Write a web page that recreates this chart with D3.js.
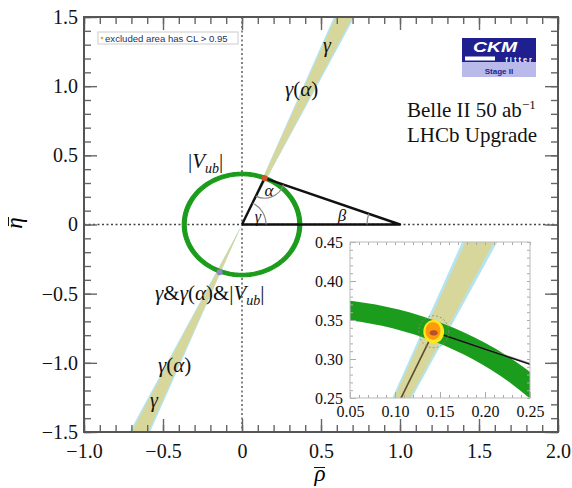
<!DOCTYPE html>
<html><head><meta charset="utf-8">
<script src="https://cdn.jsdelivr.net/npm/d3@7"></script>
<style>
html,body{margin:0;padding:0;background:#fff;}
svg{display:block;}
</style></head>
<body><svg id="chart" width="572" height="488"></svg>
<script>
// Unitarity-triangle fit in the (rho-bar, eta-bar) plane
const xTickValues = [-1.0, -0.5, 0, 0.5, 1.0, 1.5, 2.0];
const yTickValues = [-1.5, -1.0, -0.5, 0, 0.5, 1.0, 1.5];
const insetXTickValues = [0.05, 0.10, 0.15, 0.20, 0.25];
const insetYTickValues = [0.25, 0.30, 0.35, 0.40, 0.45];
const apex = [0.143, 0.335];                 // fitted (rho, eta)
const baseCorners = [[0, 0], [1, 0]];
const mirrorPoint = [-0.142, -0.345];
const gammaBand = [65.0, 68.4];              // degrees
const gammaAlphaBand = [64.6, 68.8];         // degrees
const vubBand = [0.353, 0.378];              // radius range
const contourRx = [0.0167, 0.0115, 0.0083];  // dashed, 95% (yellow), 68% (orange)
const contourRy = [0.0205, 0.0150, 0.0113];
const coreRx = 0.0045, coreRy = 0.0035;

const svg = d3.select("#chart");
const F = '"Liberation Serif","Times New Roman",serif';
const S = '"Liberation Sans",Arial,sans-serif';

const x = d3.scaleLinear().domain([-1, 2]).range([84, 558]);
const y = d3.scaleLinear().domain([-1.5, 1.5]).range([432, 17]);
const xi = d3.scaleLinear().domain([0.05, 0.25]).range([350, 530]);
const yi = d3.scaleLinear().domain([0.25, 0.45]).range([398, 242]);

const defs = svg.append("defs");
defs.append("clipPath").attr("id", "clipMain").append("rect")
  .attr("x", 84).attr("y", 17).attr("width", 474).attr("height", 415);
defs.append("clipPath").attr("id", "clipInset").append("rect")
  .attr("x", 350).attr("y", 242).attr("width", 180).attr("height", 156);

const rad = d => d * Math.PI / 180;
function wedge(sx, sy, band) {
  const L = 4, a1 = rad(band[0]), a2 = rad(band[1]);
  const pts = [[0, 0], [L * Math.cos(a1), L * Math.sin(a1)], [L * Math.cos(a2), L * Math.sin(a2)], [0, 0],
               [-L * Math.cos(a1), -L * Math.sin(a1)], [-L * Math.cos(a2), -L * Math.sin(a2)]];
  return d3.line().x(p => sx(p[0])).y(p => sy(p[1]))(pts) + "Z";
}
function ring(sx, sy, r) {
  const pts = d3.range(0, 361, 2).map(t => [sx(r * Math.cos(rad(t))), sy(r * Math.sin(rad(t)))]);
  return "M" + pts.map(p => p.join(",")).join("L") + "Z";
}
function annulus(sx, sy, band) { return ring(sx, sy, band[1]) + ring(sx, sy, band[0]); }
function ellipsePath(sx, sy, cx, cy, rx, ry) {
  const pts = d3.range(0, 361, 6).map(t => [sx(cx + rx * Math.cos(rad(t))), sy(cy + ry * Math.sin(rad(t)))]);
  return "M" + pts.map(p => p.join(",")).join("L") + "Z";
}

// ---------- main panel ----------
const main = svg.append("g").attr("clip-path", "url(#clipMain)");
main.append("path").attr("d", wedge(x, y, gammaAlphaBand)).attr("fill", "#b3e4f0");
main.append("path").attr("d", wedge(x, y, gammaBand)).attr("fill", "#d7d79b");

// dotted axes through the origin
main.append("line").attr("x1", x(0)).attr("x2", x(0)).attr("y1", y(1.5)).attr("y2", y(-1.5))
  .attr("stroke", "#444").attr("stroke-width", 1.3).attr("stroke-dasharray", "2,2.5");
main.append("line").attr("x1", x(-1)).attr("x2", x(2)).attr("y1", y(0)).attr("y2", y(0))
  .attr("stroke", "#444").attr("stroke-width", 1.3).attr("stroke-dasharray", "2,2.5");

main.append("path").attr("d", annulus(x, y, vubBand)).attr("fill", "#1c9c1c").attr("fill-rule", "evenodd")
  .attr("stroke", "#1c9c1c").attr("stroke-width", 1.2);

// triangle
const tri = [baseCorners[0], apex, baseCorners[1], baseCorners[0]];
main.append("path").attr("d", d3.line().x(p => x(p[0])).y(p => y(p[1]))(tri))
  .attr("fill", "none").attr("stroke", "#111").attr("stroke-width", 2.4).attr("stroke-linejoin", "round");

// angle arcs
const P0 = [x(0), y(0)], PA = [x(apex[0]), y(apex[1])], P1 = [x(1), y(0)];
const ang = (from, to) => Math.atan2(to[1] - from[1], to[0] - from[0]);
function arcPath(c, r, a0, a1) { const p = d3.path(); p.arc(c[0], c[1], r, a0, a1, false); return p.toString(); }
const arcs = [
  arcPath(P0, 24, ang(P0, PA), 0),
  arcPath(PA, 20, ang(PA, P1), ang(PA, P0)),
  arcPath(P1, 33, Math.PI, ang(P1, PA) + 2 * Math.PI)
];
main.selectAll("path.angle").data(arcs).join("path").attr("class", "angle")
  .attr("d", d => d).attr("fill", "none").attr("stroke", "#888").attr("stroke-width", 1.2);

main.append("circle").attr("cx", x(apex[0])).attr("cy", y(apex[1])).attr("r", 3).attr("fill", "#d0542a");
main.append("circle").attr("cx", x(mirrorPoint[0])).attr("cy", y(mirrorPoint[1])).attr("r", 3).attr("fill", "#8d86c8");

// frame ticks (inward)
function minorVals(d, step) { return d3.range(Math.round(d[0] / step), Math.round(d[1] / step) + 1).map(i => +(i * step).toFixed(3)); }
const fmt = d => d === 0 ? "0" : d3.format(".1f")(d);
const axG = svg.append("g");
function styleAxis(g, size) {
  g.select(".domain").remove();
  g.selectAll(".tick line").attr("stroke", "#666").attr("stroke-width", 1.4);
  g.selectAll(".tick text").attr("font-family", F).attr("font-size", size).attr("fill", "#111");
}
axG.append("g").attr("transform", `translate(0,432)`).call(d3.axisBottom(x).tickValues(minorVals([-1, 2], 0.1)).tickSize(-7).tickFormat("")).call(styleAxis, 20);
axG.append("g").attr("transform", `translate(0,432)`).call(d3.axisBottom(x).tickValues(xTickValues).tickSize(-13).tickPadding(12).tickFormat(fmt)).call(styleAxis, 20);
axG.append("g").attr("transform", `translate(0,17)`).call(d3.axisTop(x).tickValues(minorVals([-1, 2], 0.1)).tickSize(-7).tickFormat("")).call(styleAxis, 20);
axG.append("g").attr("transform", `translate(0,17)`).call(d3.axisTop(x).tickValues(xTickValues).tickSize(-13).tickFormat("")).call(styleAxis, 20);
axG.append("g").attr("transform", `translate(84,0)`).call(d3.axisLeft(y).tickValues(minorVals([-1.5, 1.5], 0.1)).tickSize(-7).tickFormat("")).call(styleAxis, 20);
axG.append("g").attr("transform", `translate(84,0)`).call(d3.axisLeft(y).tickValues(yTickValues).tickSize(-13).tickPadding(6).tickFormat(fmt)).call(styleAxis, 20);
axG.append("g").attr("transform", `translate(558,0)`).call(d3.axisRight(y).tickValues(minorVals([-1.5, 1.5], 0.1)).tickSize(-7).tickFormat("")).call(styleAxis, 20);
axG.append("g").attr("transform", `translate(558,0)`).call(d3.axisRight(y).tickValues(yTickValues).tickSize(-13).tickFormat("")).call(styleAxis, 20);

svg.append("rect").attr("x", 84).attr("y", 17).attr("width", 474).attr("height", 415)
  .attr("fill", "none").attr("stroke", "#555").attr("stroke-width", 2);

// axis titles
const xt = svg.append("g");
xt.append("text").attr("x", 320).attr("y", 481).attr("text-anchor", "middle").attr("font-family", F)
  .attr("font-style", "italic").attr("font-size", 23).text("ρ");
xt.append("line").attr("x1", 314).attr("x2", 325).attr("y1", 467.5).attr("y2", 467.5).attr("stroke", "#111").attr("stroke-width", 1);
const yt = svg.append("g").attr("transform", "translate(22,223) rotate(-90)");
yt.append("text").attr("x", 0).attr("y", 0).attr("text-anchor", "middle").attr("font-family", F)
  .attr("font-style", "italic").attr("font-size", 23).text("η");
yt.append("line").attr("x1", -3).attr("x2", 6).attr("y1", -13.5).attr("y2", -13.5).attr("stroke", "#111").attr("stroke-width", 1);

// labels in the plane
function richText(xp, yp, parts, size, anchor) {
  const t = svg.append("text").attr("x", xp).attr("y", yp).attr("font-family", F).attr("font-size", size)
    .attr("fill", "#111").attr("text-anchor", anchor || "start");
  parts.forEach(p => {
    const s = t.append("tspan").text(p.t);
    if (p.i) s.attr("font-style", "italic");
    if (p.fs) s.attr("font-size", p.fs);
    if (p.dy) s.attr("dy", p.dy);
  });
  return t;
}
const Vub = [{t: "|"}, {t: "V", i: 1}, {t: "ub", i: 1, fs: 14, dy: 5}, {t: "|", dy: -5}];
richText(188, 168, Vub, 21);
richText(327, 52, [{t: "γ", i: 1}], 20, "middle");
richText(285, 96, [{t: "γ", i: 1}, {t: "("}, {t: "α", i: 1}, {t: ")"}], 21);
richText(155, 300, [{t: "γ", i: 1}, {t: "&"}, {t: "γ", i: 1}, {t: "("}, {t: "α", i: 1}, {t: ")&"}].concat(Vub), 21);
richText(158, 372, [{t: "γ", i: 1}, {t: "("}, {t: "α", i: 1}, {t: ")"}], 21);
richText(154, 407, [{t: "γ", i: 1}], 20, "middle");
richText(269, 196, [{t: "α", i: 1}], 17, "middle");
richText(258, 222, [{t: "γ", i: 1}], 16, "middle");
richText(342, 221, [{t: "β", i: 1}], 17, "middle");

richText(407, 117, [{t: "Belle II 50 ab"}, {t: "−1", fs: 13, dy: -8}], 21);
richText(407, 142, [{t: "LHCb Upgrade"}], 21);

// ---------- inset (zoom on the apex) ----------
svg.append("rect").attr("x", 350).attr("y", 242).attr("width", 180).attr("height", 156).attr("fill", "#fff");
const ins = svg.append("g").attr("clip-path", "url(#clipInset)");
ins.append("path").attr("d", wedge(xi, yi, gammaAlphaBand)).attr("fill", "#b3e4f0");
ins.append("path").attr("d", wedge(xi, yi, gammaBand)).attr("fill", "#d7d79b");
ins.append("path").attr("d", annulus(xi, yi, vubBand)).attr("fill", "#1c9c1c").attr("fill-rule", "evenodd");
ins.append("line").attr("x1", xi(apex[0])).attr("y1", yi(apex[1])).attr("x2", xi(1)).attr("y2", yi(0.012))
  .attr("stroke", "#999").attr("stroke-width", 0.8);
ins.append("line").attr("x1", xi(apex[0])).attr("y1", yi(apex[1])).attr("x2", xi(1)).attr("y2", yi(0))
  .attr("stroke", "#111").attr("stroke-width", 1.5);
ins.append("line").attr("x1", xi(apex[0])).attr("y1", yi(apex[1])).attr("x2", xi(0)).attr("y2", yi(0))
  .attr("stroke", "#5c4b2e").attr("stroke-width", 1.6);
ins.append("path").attr("d", ellipsePath(xi, yi, apex[0], apex[1], contourRx[0], contourRy[0]))
  .attr("fill", "none").attr("stroke", "#8a8a70").attr("stroke-width", 0.8).attr("stroke-dasharray", "2,2");
ins.append("path").attr("d", ellipsePath(xi, yi, apex[0], apex[1], contourRx[1], contourRy[1])).attr("fill", "#ffe81a");
ins.append("path").attr("d", ellipsePath(xi, yi, apex[0] - 0.0008, apex[1] + 0.001, contourRx[2], contourRy[2])).attr("fill", "#ff9a10");
ins.append("path").attr("d", ellipsePath(xi, yi, apex[0], apex[1] - 0.0015, coreRx, coreRy)).attr("fill", "#b8502a");

const iax = svg.append("g");
function styleInset(g) {
  g.select(".domain").remove();
  g.selectAll(".tick line").attr("stroke", "#aaa").attr("stroke-width", 1);
  g.selectAll(".tick text").attr("font-family", F).attr("font-size", 16).attr("fill", "#111");
}
const fmt2 = d3.format(".2f");
iax.append("g").attr("transform", "translate(0,398)").call(d3.axisBottom(xi).tickValues(minorVals([0.05, 0.25], 0.01)).tickSize(-3).tickFormat("")).call(styleInset);
iax.append("g").attr("transform", "translate(0,398)").call(d3.axisBottom(xi).tickValues(insetXTickValues).tickSize(-6).tickPadding(8).tickFormat(fmt2)).call(styleInset);
iax.append("g").attr("transform", "translate(0,242)").call(d3.axisTop(xi).tickValues(minorVals([0.05, 0.25], 0.01)).tickSize(-3).tickFormat("")).call(styleInset);
iax.append("g").attr("transform", "translate(350,0)").call(d3.axisLeft(yi).tickValues(minorVals([0.25, 0.45], 0.01)).tickSize(-3).tickFormat("")).call(styleInset);
iax.append("g").attr("transform", "translate(350,0)").call(d3.axisLeft(yi).tickValues(insetYTickValues).tickSize(-6).tickPadding(7).tickFormat(fmt2)).call(styleInset);
iax.append("g").attr("transform", "translate(530,0)").call(d3.axisRight(yi).tickValues(minorVals([0.25, 0.45], 0.01)).tickSize(-3).tickFormat("")).call(styleInset);
svg.append("rect").attr("x", 350).attr("y", 242).attr("width", 180).attr("height", 156)
  .attr("fill", "none").attr("stroke", "#bbb").attr("stroke-width", 1);

// ---------- legend note ----------
svg.append("rect").attr("x", 98).attr("y", 32).attr("width", 140).attr("height", 12)
  .attr("fill", "#fff").attr("stroke", "#ccc").attr("stroke-width", 1);
svg.append("circle").attr("cx", 102).attr("cy", 38).attr("r", 1.3).attr("fill", "#f0a030");
svg.append("text").attr("x", 105).attr("y", 41.5).attr("font-family", S)
  .attr("font-size", 9.6).attr("fill", "#223366").text("excluded area has CL > 0.95");

// ---------- CKMfitter badge ----------
const logo = svg.append("g");
logo.append("rect").attr("x", 462).attr("y", 38).attr("width", 74).attr("height", 24).attr("fill", "#1f1f8f");
logo.append("rect").attr("x", 462).attr("y", 62).attr("width", 74).attr("height", 15).attr("fill", "#b9b9ea");
logo.append("rect").attr("x", 465).attr("y", 56.5).attr("width", 30).attr("height", 4).attr("fill", "#fff");
logo.append("text").attr("x", 473).attr("y", 52).attr("font-family", S)
  .attr("font-size", 15).attr("font-weight", "bold").attr("font-style", "italic").attr("fill", "#fff")
  .attr("textLength", 44).attr("lengthAdjust", "spacingAndGlyphs").text("CKM");
logo.append("text").attr("x", 534).attr("y", 62.3).attr("text-anchor", "end").attr("font-family", S)
  .attr("font-size", 7.5).attr("font-weight", "bold").attr("letter-spacing", 2).attr("fill", "#fff").text("fitter");
logo.append("text").attr("x", 499).attr("y", 73.5).attr("text-anchor", "middle").attr("font-family", S)
  .attr("font-size", 8).attr("font-weight", "bold").attr("fill", "#1f1f8f").text("Stage II");
</script>
</body></html>
